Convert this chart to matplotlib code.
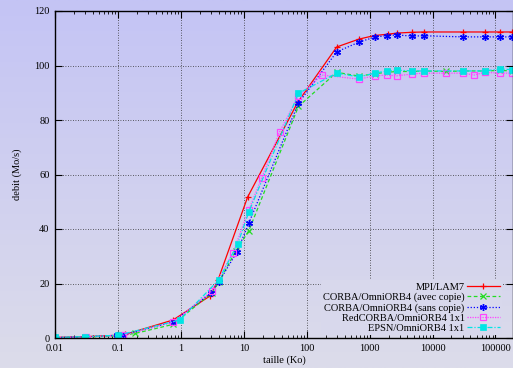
import numpy as np
import matplotlib
matplotlib.use("Agg")
import matplotlib.pyplot as plt
from matplotlib.ticker import FixedLocator, FuncFormatter, LogLocator, NullFormatter
from matplotlib.colors import LinearSegmentedColormap

plt.rcParams['font.family'] = ['Liberation Serif', 'DejaVu Serif']

# Throughput (Mo/s) versus message size (Ko)
mpi_x = [0.01, 0.03, 0.1, 0.13, 0.75, 2.9, 3.9, 11.5, 72, 300, 680, 1200, 1950, 2750,
         4800, 7400, 30000, 67000, 120000, 180000]
mpi_y = [0.2, 0.5, 1.0, 1.3, 6.6, 15.4, 21.3, 51.7, 86.5, 106.8, 109.7, 111.0, 111.5, 111.9,
         112.2, 112.3, 112.3, 112.3, 112.3, 112.3]

avec_x = [0.01, 0.03, 0.1, 0.19, 0.75, 3.1, 4, 7.5, 12, 74, 300, 680, 1200, 1900,
          2700, 4800, 7400, 16600, 30000, 67000, 120000, 180000]
avec_y = [0.1, 0.3, 0.8, 1.7, 5.0, 16.5, 20.5, 32.0, 39.3, 85.0, 97.5, 96.1, 97.0, 97.5,
          97.8, 97.8, 98.0, 97.8, 98.0, 98.0, 98.2, 98.0]

sans_x = [0.01, 0.03, 0.096, 0.12, 0.75, 3, 4, 7.8, 12, 74, 300, 680, 1200, 1900,
          2700, 4800, 7400, 30000, 67000, 120000, 180000]
sans_y = [0.2, 0.4, 1.0, 1.1, 5.9, 16.5, 20.5, 31.6, 42.1, 86.2, 105.0, 108.6, 110.4,
          111.0, 111.2, 110.8, 110.9, 110.5, 110.5, 110.5, 110.5]

red_x = [0.01, 0.031, 0.12, 0.75, 3.1, 6.7, 12, 19.3, 37, 74, 175, 680, 1200, 1860, 2700,
         4800, 7400, 16600, 30000, 46000, 67000, 120000, 180000]
red_y = [0.1, 0.4, 1.0, 5.8, 17.2, 31.2, 47.0, 58.7, 75.6, 88.8, 96.5, 95.0, 96.2, 96.5, 96.2,
         96.9, 97.2, 97.2, 97.2, 96.5, 97.5, 97.2, 97.2]

epsn_x = [0.01, 0.03, 0.1, 0.96, 4, 8, 12, 74, 300, 680, 1200, 1900, 2700, 4800,
          7400, 30000, 67000, 120000, 180000]
epsn_y = [0.2, 0.5, 1.0, 6.6, 21.3, 34.5, 46.2, 89.8, 97.2, 95.8, 97.2, 98.0, 98.3,
          98.0, 98.0, 98.0, 98.0, 98.7, 98.5]

x_ticks = [0.01, 0.1, 1, 10, 100, 1000, 10000, 100000]
y_ticks = [0, 20, 40, 60, 80, 100, 120]

fig = plt.figure(figsize=(5.13, 3.68), dpi=100)

# vertical lavender gradient behind everything
bg = fig.add_axes([0, 0, 1, 1], zorder=-10)
cmap = LinearSegmentedColormap.from_list('bg', ['#dcdcea', '#c4c4f5'])
grad = np.linspace(0, 1, 256).reshape(-1, 1)
bg.imshow(grad, aspect='auto', cmap=cmap, origin='lower', extent=[0, 1, 0, 1])
bg.set_axis_off()

ax = fig.add_axes([55 / 513, 30 / 368, 458 / 513, 327 / 368])
ax.patch.set_alpha(0)

fs = 7.5
ax.plot(mpi_x, mpi_y, color='#ff0000', lw=0.9, ls='-', marker='+', ms=5, mew=0.9,
        label='MPI/LAM7')
ax.plot(avec_x, avec_y, color='#22dd22', lw=0.9, ls=(0, (3, 2)), marker='x', ms=4, mew=0.9,
        label='CORBA/OmniORB4 (avec copie)')
ax.plot(sans_x, sans_y, color='#0000ff', lw=0.9, ls=(0, (1, 1.5)), marker=(6, 2, 0), ms=5, mew=1.0,
        label='CORBA/OmniORB4 (sans copie)')
ax.plot(red_x, red_y, color='#ff44ff', lw=0.9, ls=(0, (1, 1)), marker='s', ms=4.5, mew=0.9,
        mfc='none', label='RedCORBA/OmniORB4 1x1')
ax.plot(epsn_x, epsn_y, color='#00e5e5', lw=0.9, ls=(0, (4, 1.5, 1, 1.5)), marker='s', ms=4.5,
        mew=0.5, label='EPSN/OmniORB4 1x1')

ax.set_xscale('log')
ax.set_xlim(0.01, 1.9e5)
ax.set_ylim(0, 120)
ax.xaxis.set_major_locator(FixedLocator(x_ticks))
ax.xaxis.set_major_formatter(FuncFormatter(lambda v, p: '%g' % v if v < 1e5 else '%d' % v))
ax.xaxis.set_minor_locator(LogLocator(base=10, subs=np.arange(2, 10)))
ax.xaxis.set_minor_formatter(NullFormatter())
ax.yaxis.set_major_locator(FixedLocator(y_ticks))

ax.tick_params(which='both', direction='in', top=True, right=True, labelsize=fs, colors='black')
ax.tick_params(which='major', length=5, width=0.8, pad=4)
ax.tick_params(which='minor', length=2.5, width=0.6)
for s in ax.spines.values():
    s.set_linewidth(1.0)

ax.grid(True, which='major', color='#333333', ls=(0, (1, 2)), lw=0.6)

ax.set_xlabel('taille (Ko)', fontsize=fs, labelpad=2)
ax.set_ylabel('debit (Mo/s)', fontsize=fs, labelpad=9)

leg = ax.legend(loc='lower right', bbox_to_anchor=(0.976, 0.009), fontsize=fs, frameon=True,
                framealpha=1, facecolor='#d8d8ec', edgecolor='none', handlelength=3.2,
                handletextpad=0.2, labelspacing=0.08, borderpad=0.2, borderaxespad=0,
                markerfirst=False)
for t in leg.get_texts():
    t.set_ha('right')
leg._legend_box.align = 'right'

fig.savefig('out.png', dpi=100)
